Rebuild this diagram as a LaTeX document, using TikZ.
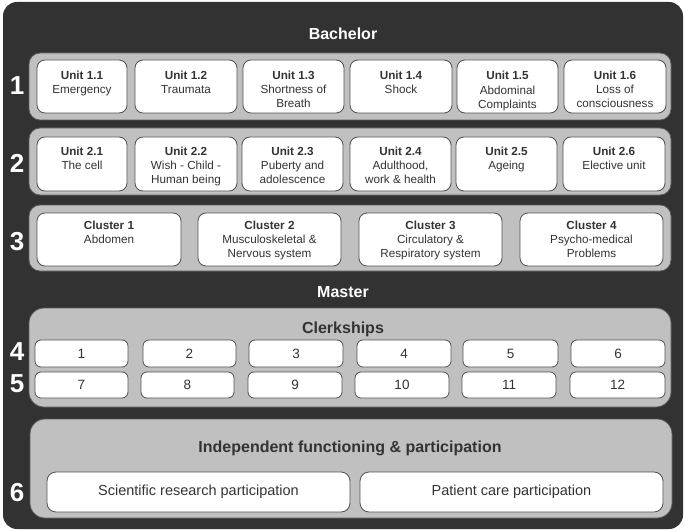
\documentclass[tikz,border=0pt]{standalone}
\usepackage{fontspec}
\setmainfont{Liberation Sans}
\definecolor{darkbg}{HTML}{323232}
\definecolor{panelgray}{HTML}{C0C0C0}
\definecolor{panelline}{HTML}{5A5A5A}
\definecolor{boxline}{HTML}{505050}
\definecolor{textgray}{HTML}{333333}
\newcommand\mybox[7]{% style, name, x1, y1, x2, y2, text
  \node[#1, minimum width={(#5-#3)*1pt}, minimum height={(#6-#4)*1pt}] (#2) at ({(#3+#5)/2},{(#4+#6)/2}) {#7};}
\begin{document}
\begin{tikzpicture}[x=1pt,y=-1pt,
  bgbox/.style={draw=none, fill=darkbg, rounded corners=14pt, inner sep=0pt, outer sep=0pt},
  panel/.style={draw=panelline, line width=0.8pt, fill=panelgray, rounded corners=11pt, inner sep=0pt, outer sep=0pt},
  bigpanel/.style={panel, rounded corners=15pt},
  wbox/.style={draw=boxline, line width=0.8pt, fill=white, rounded corners=8pt, inner sep=0pt, outer sep=0pt, text=textgray},
  nbox/.style={wbox, rounded corners=6pt, font=\fontsize{13.5pt}{16pt}\selectfont},
  pbox/.style={wbox, rounded corners=9pt, font=\fontsize{14.5pt}{17pt}\selectfont},
  utxt/.style={anchor=north, inner sep=0pt, align=center, text=textgray, font=\fontsize{11.7pt}{14pt}\selectfont},
  title/.style={anchor=base, inner sep=0pt, text=white, font=\fontsize{16pt}{19pt}\selectfont\bfseries},
  ptitle/.style={title, text=textgray},
  rowlab/.style={inner sep=0pt, text=white, font=\fontsize{26pt}{30pt}\selectfont\bfseries}]
\useasboundingbox (0,0) rectangle (685,532);
\mybox{bgbox}{bg}{3}{2}{683}{529}{}
% titles
\node[title] (bach) at (343,40) {Bachelor};
\node[title] (mast) at (343,297) {Master};
% row panels
\mybox{panel}{p1}{29}{53}{671}{120}{}
\mybox{panel}{p2}{29}{128}{671}{195}{}
\mybox{panel}{p3}{29}{205}{671}{271}{}
\mybox{bigpanel}{p4}{29}{308}{671}{407}{}
\mybox{bigpanel}{p6}{30}{419}{672}{518}{}
% row labels
\node[rowlab] (l1) at (17,85.5) {1};
\node[rowlab] (l2) at (17,163) {2};
\node[rowlab] (l3) at (17,242) {3};
\node[rowlab] (l4) at (17,352) {4};
\node[rowlab] (l5) at (17,384) {5};
\node[rowlab] (l6) at (17,493) {6};
% row 1 units
\mybox{wbox}{u11}{37}{60}{127}{113}{}
\mybox{wbox}{u12}{135}{60}{237}{113}{}
\mybox{wbox}{u13}{243}{60}{344}{113}{}
\mybox{wbox}{u14}{350}{60}{452}{113}{}
\mybox{wbox}{u15}{457}{60}{558}{113}{}
\mybox{wbox}{u16}{564}{60}{666}{113}{}
\node[utxt] (t11) at ([yshift=-10.5pt]u11.north) {\textbf{Unit 1.1}\\Emergency};
\node[utxt] (t12) at ([yshift=-10.5pt]u12.north) {\textbf{Unit 1.2}\\Traumata};
\node[utxt] (t13) at ([yshift=-10.5pt]u13.north) {\textbf{Unit 1.3}\\Shortness of\\Breath};
\node[utxt] (t14) at ([yshift=-10.5pt]u14.north) {\textbf{Unit 1.4}\\Shock};
\node[utxt] (t15) at ([yshift=-10.5pt]u15.north) {\textbf{Unit 1.5}\\[1pt]Abdominal\\Complaints};
\node[utxt] (t16) at ([yshift=-10.5pt]u16.north) {\textbf{Unit 1.6}\\Loss of\\consciousness};
% row 2 units
\mybox{wbox}{u21}{37}{137}{127}{191}{}
\mybox{wbox}{u22}{135}{137}{237}{191}{}
\mybox{wbox}{u23}{242}{137}{343}{191}{}
\mybox{wbox}{u24}{350}{137}{451}{191}{}
\mybox{wbox}{u25}{456}{137}{557}{191}{}
\mybox{wbox}{u26}{563}{137}{665}{191}{}
\node[utxt] (t21) at ([yshift=-9.8pt]u21.north) {\textbf{Unit 2.1}\\The cell};
\node[utxt] (t22) at ([yshift=-9.8pt]u22.north) {\textbf{Unit 2.2}\\Wish - Child -\\Human being};
\node[utxt] (t23) at ([yshift=-9.8pt]u23.north) {\textbf{Unit 2.3}\\Puberty and\\adolescence};
\node[utxt] (t24) at ([yshift=-9.8pt]u24.north) {\textbf{Unit 2.4}\\Adulthood,\\work \& health};
\node[utxt] (t25) at ([yshift=-9.8pt]u25.north) {\textbf{Unit 2.5}\\Ageing};
\node[utxt] (t26) at ([yshift=-9.8pt]u26.north) {\textbf{Unit 2.6}\\Elective unit};
% row 3 clusters
\mybox{wbox}{c1}{37}{213}{181}{266}{}
\mybox{wbox}{c2}{198}{213}{341}{266}{}
\mybox{wbox}{c3}{359}{213}{502}{266}{}
\mybox{wbox}{c4}{520}{213}{663}{266}{}
\node[utxt] (tc1) at ([yshift=-7.4pt]c1.north) {\textbf{Cluster 1}\\Abdomen};
\node[utxt] (tc2) at ([yshift=-7.4pt]c2.north) {\textbf{Cluster 2}\\Musculoskeletal \&\\Nervous system};
\node[utxt] (tc3) at ([yshift=-7.4pt]c3.north) {\textbf{Cluster 3}\\Circulatory \&\\Respiratory system};
\node[utxt] (tc4) at ([yshift=-7.4pt]c4.north) {\textbf{Cluster 4}\\Psycho-medical\\Problems};
% clerkships
\node[ptitle] (clerk) at (343,333) {Clerkships};
\mybox{nbox}{k1}{35}{340}{128}{367}{1}
\mybox{nbox}{k2}{143}{340}{236}{367}{\raisebox{-2.5pt}{2}}
\mybox{nbox}{k3}{249}{340}{343}{367}{3}
\mybox{nbox}{k4}{357}{340}{451}{367}{4}
\mybox{nbox}{k5}{463}{340}{558}{367}{5}
\mybox{nbox}{k6}{571}{340}{665}{367}{6}
\mybox{nbox}{k7}{35}{372}{128}{398}{7}
\mybox{nbox}{k8}{141}{372}{234}{398}{\raisebox{-2.5pt}{8}}
\mybox{nbox}{k9}{248}{372}{342}{398}{9}
\mybox{nbox}{k10}{355}{372}{449}{398}{10}
\mybox{nbox}{k11}{462}{372}{556}{398}{11}
\mybox{nbox}{k12}{570}{372}{665}{398}{12}
% independent functioning
\node[ptitle] (indep) at (350,452) {Independent functioning \& participation};
\mybox{pbox}{s1}{47}{472}{350}{512}{Scientific research participation}
\mybox{pbox}{s2}{360}{472}{663}{512}{Patient care participation}
\end{tikzpicture}
\end{document}
